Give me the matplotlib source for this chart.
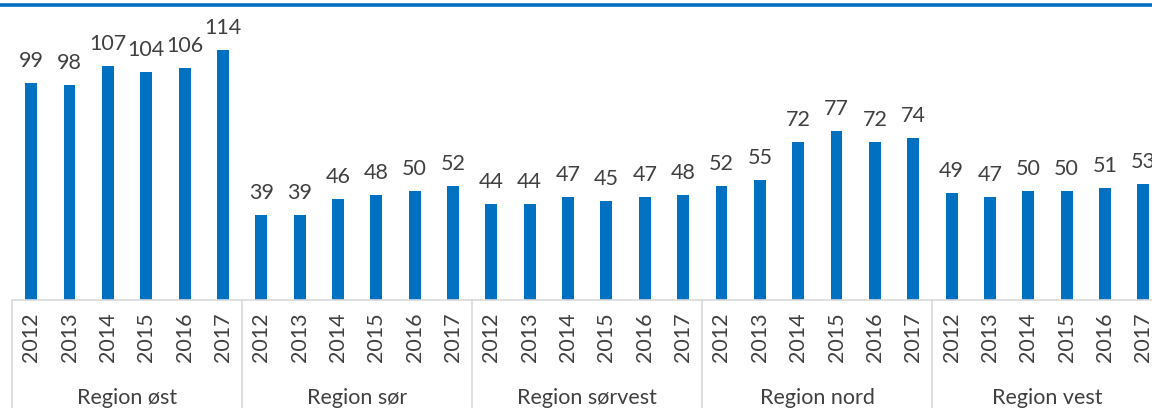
import matplotlib
matplotlib.use("Agg")
import matplotlib.pyplot as plt
import matplotlib.transforms as mtransforms

regions = ["Region øst", "Region sør", "Region sørvest", "Region nord", "Region vest"]
years = ["2012", "2013", "2014", "2015", "2016", "2017"]
values_ost = [99, 98, 107, 104, 106, 114]
values_sor = [39, 39, 46, 48, 50, 52]
values_sorvest = [44, 44, 47, 45, 47, 48]
values_nord = [52, 55, 72, 77, 72, 74]
values_vest = [49, 47, 50, 50, 51, 53]
all_values = [values_ost, values_sor, values_sorvest, values_nord, values_vest]

plt.rcParams['font.family'] = ['Lato', 'DejaVu Sans']
TEXT = '#404040'
BLUE = '#0070C0'
GRID = '#D9D9D9'

W, H = 1152, 408
fig = plt.figure(figsize=(W / 100, H / 100), dpi=100)
left_px, base_px = 12, 300
slot = 38.35
n = len(years) * len(regions)
ax = fig.add_axes([left_px / W, (H - base_px) / H, n * slot / W, base_px / H])
ax.set_xlim(0, n)
ax.set_ylim(0, base_px / 2.19)

xs, vals, labels = [], [], []
for g, vlist in enumerate(all_values):
    for i, v in enumerate(vlist):
        xs.append(g * len(years) + i + 0.5)
        vals.append(v)
        labels.append(years[i])

ax.bar(xs, vals, width=0.31, color=BLUE, zorder=2)
for x, v in zip(xs, vals):
    ax.annotate(str(v), (x, v), xytext=(0, 11.5), textcoords='offset points',
                ha='center', va='baseline', fontsize=15.5, color=TEXT)

ax.set_xticks(xs)
ax.set_xticklabels(labels, rotation=90, fontsize=15.5, color=TEXT)
ax.tick_params(axis='x', length=0, pad=9)
ax.set_yticks([])
for s in ['top', 'right', 'left']:
    ax.spines[s].set_visible(False)
ax.spines['bottom'].set_color(GRID)
ax.spines['bottom'].set_linewidth(1.2)

# group separators
trans = mtransforms.blended_transform_factory(ax.transData, ax.transAxes)
for g in range(len(regions) + 1):
    xb = g * len(years)
    ax.plot([xb, xb], [0, -0.37], transform=trans, color=GRID, lw=1.2, clip_on=False)

# group labels
trans2 = mtransforms.blended_transform_factory(ax.transData, fig.transFigure)
for g, r in enumerate(regions):
    ax.text(g * len(years) + len(years) / 2, 4 / H, r, transform=trans2,
            ha='center', va='baseline', fontsize=15.5, color=TEXT)

# top decorative line
fig.add_artist(plt.Line2D([0, 1], [1 - 5 / H, 1 - 5 / H], transform=fig.transFigure,
                          color=BLUE, lw=2.6))

fig.savefig("out.png", dpi=100)
